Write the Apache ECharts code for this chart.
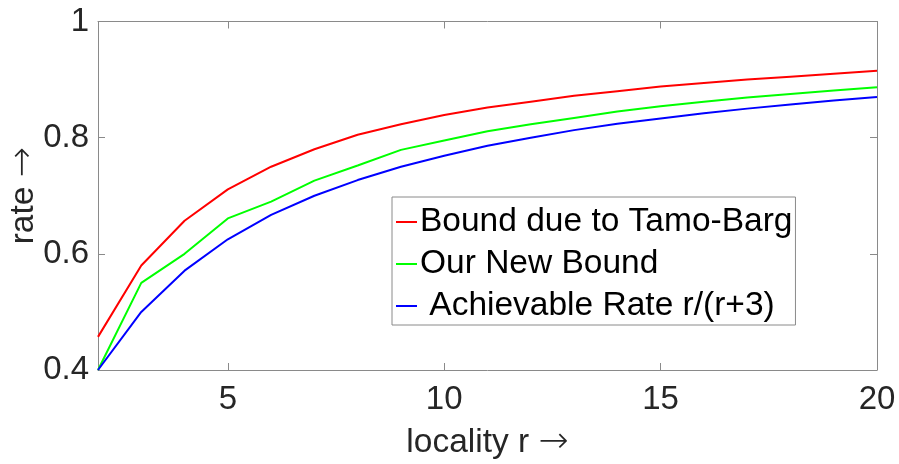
<!DOCTYPE html>
<html>
<head>
<meta charset="utf-8">
<script src="https://cdn.jsdelivr.net/npm/echarts@6/dist/echarts.min.js"></script>
<style>
html,body{margin:0;padding:0;background:#fff;}
#chart{width:899px;height:464px;}
</style>
</head>
<body>
<div id="chart"></div>
<script>
var locality = [2,3,4,5,6,7,8,9,10,11,12,13,14,15,16,17,18,19,20];
var tamoBarg = [0.457,0.580,0.657,0.711,0.750,0.780,0.805,0.823,0.839,0.852,0.862,0.872,0.880,0.888,0.894,0.900,0.905,0.910,0.915];
var newBound = [0.400,0.550,0.600,0.661,0.690,0.726,0.752,0.779,0.795,0.811,0.823,0.834,0.845,0.854,0.862,0.869,0.875,0.881,0.887];
var achievable = [0.400,0.500,0.571,0.625,0.667,0.700,0.727,0.750,0.769,0.786,0.800,0.813,0.824,0.833,0.842,0.850,0.857,0.864,0.870];
var xTicks = [5,10,15,20];
var seriesNames = ['Bound due to Tamo-Barg','Our New Bound',' Achievable Rate r/(r+3)'];
var seriesColors = ['#ff0000','#00ff00','#0000ff'];
var xName = 'locality r ';
var yName = 'rate ';

function pairs(vals){ return locality.map(function(r,i){ return [r, vals[i]]; }); }
var allVals = [tamoBarg, newBound, achievable];

var axisGray = '#8a8a8a';
var font = 'Liberation Sans, Arial, sans-serif';
var nameRich = {
  t:{fontFamily:font,fontSize:33.5,color:'#262626'},
  a:{fontFamily:'DejaVu Sans',fontSize:36,color:'#262626',fontWeight:200}
};

var chart = echarts.init(document.getElementById('chart'), null, {renderer:'canvas'});
chart.setOption({
  animation:false,
  backgroundColor:'#ffffff',
  grid:{left:98,right:22,top:21.5,bottom:94,show:false,containLabel:false,outerBoundsMode:'none'},
  xAxis:[{
    type:'value',min:2,max:20,position:'bottom',
    name:'{t|' + xName + '}{a|→}',nameLocation:'middle',nameGap:55,nameMoveOverlap:false,
    nameTextStyle:{rich:nameRich},
    axisLine:{show:true,lineStyle:{color:axisGray,width:1}},
    axisTick:{show:true,inside:true,length:7,lineStyle:{color:axisGray},customValues:xTicks},
    axisLabel:{show:true,margin:13,fontFamily:font,fontSize:33,color:'#262626',customValues:xTicks},
    splitLine:{show:false}
  },{
    type:'value',min:2,max:20,position:'top',
    axisLine:{show:true,lineStyle:{color:axisGray,width:1}},
    axisTick:{show:true,inside:true,length:7,lineStyle:{color:axisGray},customValues:xTicks},
    axisLabel:{show:false},
    splitLine:{show:false}
  }],
  yAxis:[{
    type:'value',min:0.4,max:1,interval:0.2,position:'left',
    name:'{t|' + yName + '}{a|→}',nameLocation:'middle',nameGap:56,nameRotate:90,nameMoveOverlap:false,
    nameTextStyle:{rich:nameRich},
    axisLine:{show:true,lineStyle:{color:axisGray,width:1}},
    axisTick:{show:true,inside:true,length:7,lineStyle:{color:axisGray}},
    axisLabel:{show:true,margin:9,fontFamily:font,fontSize:33,color:'#262626',padding:[8,0,0,0]},
    splitLine:{show:false}
  },{
    type:'value',min:0.4,max:1,interval:0.2,position:'right',
    axisLine:{show:true,lineStyle:{color:axisGray,width:1}},
    axisTick:{show:true,inside:true,length:7,lineStyle:{color:axisGray}},
    axisLabel:{show:false},
    splitLine:{show:false}
  }],
  legend:{
    show:true,orient:'vertical',left:392,top:197,
    backgroundColor:'#ffffff',borderColor:axisGray,borderWidth:1,
    padding:[8,3,2,4],itemGap:8,itemWidth:21,itemHeight:2,icon:'rect',
    textStyle:{fontFamily:font,fontSize:33.5,color:'#000000',lineHeight:34,padding:[0,0,0,-2]},
    data:seriesNames
  },
  series:seriesNames.map(function(n,i){
    return {
      name:n,type:'line',xAxisIndex:0,yAxisIndex:0,
      data:pairs(allVals[i]),showSymbol:false,symbol:'none',smooth:false,
      lineStyle:{color:seriesColors[i],width:2},itemStyle:{color:seriesColors[i]},
      z:2
    };
  })
});
</script>
</body>
</html>
